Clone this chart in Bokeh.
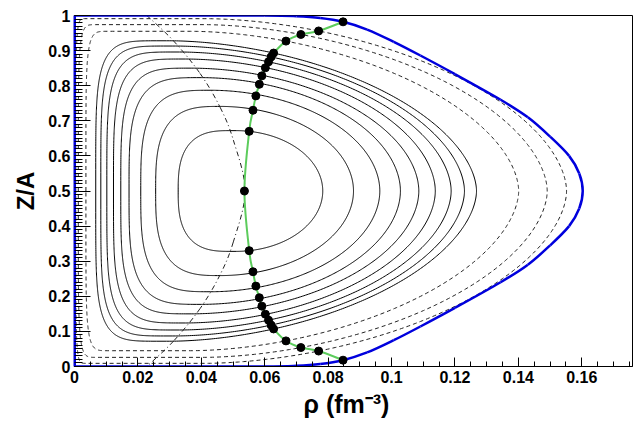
import numpy as np
from bokeh.plotting import figure
from bokeh.models import Range1d, FixedTicker, CustomJSTickFormatter, Title
from bokeh.embed import file_html
from bokeh.resources import INLINE

# ---- values (upper half; every curve is symmetric about Z/A = 0.5) ----
# solid contours, outer -> inner: crossing of Z/A=0.5 on the left / right, highest point
solid_x_left = [0.0067, 0.0083, 0.0102, 0.0123, 0.0146, 0.0172, 0.0209, 0.0256, 0.0327]
solid_x_right = [0.1268, 0.1230, 0.1188, 0.1138, 0.1086, 0.1028, 0.0963, 0.0880, 0.0783]
solid_x_peak = [0.029, 0.031, 0.033, 0.035, 0.037, 0.040, 0.043, 0.046, 0.049]
solid_y_peak = [0.928, 0.913, 0.896, 0.876, 0.850, 0.823, 0.787, 0.741, 0.672]
# dashed contours, inner -> outer
dashed_x_left = [0.0036, 0.0012, 0.0004]
dashed_x_right = [0.1401, 0.1491, 0.1552]
dashed_x_peak = [0.012, 0.008, 0.004]
dashed_y_peak = [0.955, 0.974, 0.991]
# blue boundary (upper half, after the corner at (0, 1))
blue_x = [0.0, 0.030, 0.060, 0.0700, 0.0775, 0.0847, 0.0923, 0.1007, 0.1091, 0.1200, 0.1344, 0.1430, 0.1500, 0.1560, 0.1592, 0.1603]
blue_y = [1.0, 1.0, 1.0, 0.998, 0.993, 0.982, 0.960, 0.925, 0.886, 0.833, 0.760, 0.710, 0.655, 0.600, 0.550, 0.5]
# dash-dot curve
dd_x = [0.0228, 0.0312, 0.0396, 0.0459, 0.0501, 0.0538]
dd_y = [1.0, 0.928, 0.835, 0.739, 0.645, 0.5]
# dots on the green line (upper half: blue, 3 dashed, 9 solid contours) and centre point
dot_x = [0.0847, 0.0770, 0.0714, 0.0667, 0.0628, 0.0620, 0.0612, 0.0602, 0.0591, 0.0583, 0.0572, 0.0563, 0.0551]
dot_y = [0.982, 0.956, 0.946, 0.927, 0.893, 0.882, 0.868, 0.851, 0.828, 0.804, 0.771, 0.730, 0.670]
centre_x, centre_y = 0.0536, 0.5

x_ticks = [0, 0.02, 0.04, 0.06, 0.08, 0.10, 0.12, 0.14, 0.16]
y_ticks = [0, 0.1, 0.2, 0.3, 0.4, 0.5, 0.6, 0.7, 0.8, 0.9, 1.0]


def mirror_open(xs, ys):
    xs = list(xs); ys = list(ys)
    return xs + xs[-2::-1], ys + [1 - v for v in ys[-2::-1]]


def bezier_through(p, xs, ys, **kw):
    # smooth (Catmull-Rom) drawing of a curve through the given points
    n = len(xs)
    X = [xs[0]] + list(xs) + [xs[-1]]
    Y = [ys[0]] + list(ys) + [ys[-1]]
    x0, y0, x1, y1, cx0, cy0, cx1, cy1 = ([] for _ in range(8))
    for i in range(1, n):
        x0.append(X[i]); y0.append(Y[i]); x1.append(X[i + 1]); y1.append(Y[i + 1])
        cx0.append(X[i] + (X[i + 1] - X[i - 1]) / 6); cy0.append(Y[i] + (Y[i + 1] - Y[i - 1]) / 6)
        cx1.append(X[i + 1] - (X[i + 2] - X[i]) / 6); cy1.append(Y[i + 1] - (Y[i + 2] - Y[i]) / 6)
    p.bezier(x0=x0, y0=y0, x1=x1, y1=y1, cx0=cx0, cy0=cy0, cx1=cx1, cy1=cy1, **kw)


def shape_through(xl, xp, yp, xd, yd, xr, n1, n2, m=200):
    # rounded left side L -> peak, then a rounded right side that passes the green-line dot
    h = yp - 0.5
    fd = min((yd - 0.5) / h, 0.999)
    u = (1 - fd ** n2) ** (1 / n2)
    xs = max(xp, (xd - xr * u) / (1 - u))
    t = np.linspace(0, np.pi / 2, m)
    c = np.cos(t); s = np.sin(t)
    xa = xp - (xp - xl) * c ** (2 / n1)
    ya = 0.5 + h * s ** (2 / n1)
    xb = xs + (xr - xs) * s ** (2 / n2)
    yb = 0.5 + h * c ** (2 / n2)
    return np.concatenate([xa, xb]), np.concatenate([ya, yb])


p = figure(width=635, height=420, x_range=Range1d(0, 0.176), y_range=Range1d(0, 1),
           output_backend="svg", toolbar_location=None,
           min_border_left=74, min_border_right=3, min_border_top=15, min_border_bottom=54)
p.grid.visible = False
p.outline_line_color = "black"
p.outline_line_width = 1

fmt = CustomJSTickFormatter(code="return tick == 0 ? '0' : String(parseFloat(tick.toFixed(2)));")
p.xaxis.ticker = FixedTicker(ticks=x_ticks, minor_ticks=[i * 0.005 for i in range(36)])
p.yaxis.ticker = FixedTicker(ticks=y_ticks, minor_ticks=[i * 0.01 for i in range(101)])
p.xaxis.formatter = fmt
p.yaxis.formatter = fmt
for ax in (p.xaxis[0], p.yaxis[0]):
    ax.major_label_text_font = "Liberation Sans"
    ax.major_label_text_font_style = "bold"
    ax.major_label_text_font_size = "16px"
    ax.major_label_text_color = "black"
    ax.major_tick_out = 0
    ax.minor_tick_out = 0
    ax.axis_line_color = "black"
    ax.major_tick_line_color = "black"
    ax.minor_tick_line_color = "black"
p.xaxis.major_tick_in = 9
p.xaxis.minor_tick_in = 5
p.xaxis.major_label_standoff = 4
p.yaxis.major_tick_in = 16
p.yaxis.minor_tick_in = 8
p.yaxis.major_label_standoff = 4
p.yaxis.axis_line_color = "#0000dd"
p.yaxis.axis_line_width = 2

# solid contours (each passes through its dot on the green line)
ns = len(solid_x_left)
for i in range(ns):
    frac = i / (ns - 1)
    hx, hy = shape_through(solid_x_left[i], solid_x_peak[i], solid_y_peak[i],
                           dot_x[4 + i], dot_y[4 + i], solid_x_right[i],
                           5.0 - 2.2 * frac, 1.8 + 0.2 * frac)
    fx, fy = mirror_open(hx, hy)
    p.line(fx, fy, line_color="black", line_width=1)

# dashed contours
for i in range(len(dashed_x_left)):
    hx, hy = shape_through(dashed_x_left[i], dashed_x_peak[i], dashed_y_peak[i],
                           dot_x[3 - i], dot_y[3 - i], dashed_x_right[i], 6.0, 1.8)
    fx, fy = mirror_open(hx, hy)
    p.line(fx, fy, line_color="#222222", line_width=1, line_dash="4 3")

# dash-dot curve
fx, fy = mirror_open(dd_x, dd_y)
bezier_through(p, fx, fy, line_color="#222222", line_width=1, line_dash="5 3 1 3")

# blue boundary
p.line([0, 0], [0, 1], line_color="#0000dd", line_width=3)
fx, fy = mirror_open(blue_x, blue_y)
bezier_through(p, fx, fy, line_color="#0000dd", line_width=2.5)

# green line with dots
gx = dot_x + [centre_x] + dot_x[::-1]
gy = dot_y + [centre_y] + [1 - v for v in dot_y[::-1]]
bezier_through(p, gx, gy, line_color="#5ccc5c", line_width=2)
p.scatter(gx, gy, size=8, fill_color="black", line_color="black")

# axis titles
p.add_layout(Title(text="Z/A", align="center", offset=23, standoff=14, text_font="Liberation Sans",
                   text_font_style="bold", text_font_size="24px", text_color="black"), "left")
p.add_layout(Title(text="ρ (fm⁻³)", align="left", offset=229, standoff=5, text_font="Liberation Sans",
                   text_font_style="bold", text_font_size="25px", text_color="black"), "below")

open("out.html", "w").write(file_html(p, INLINE))
